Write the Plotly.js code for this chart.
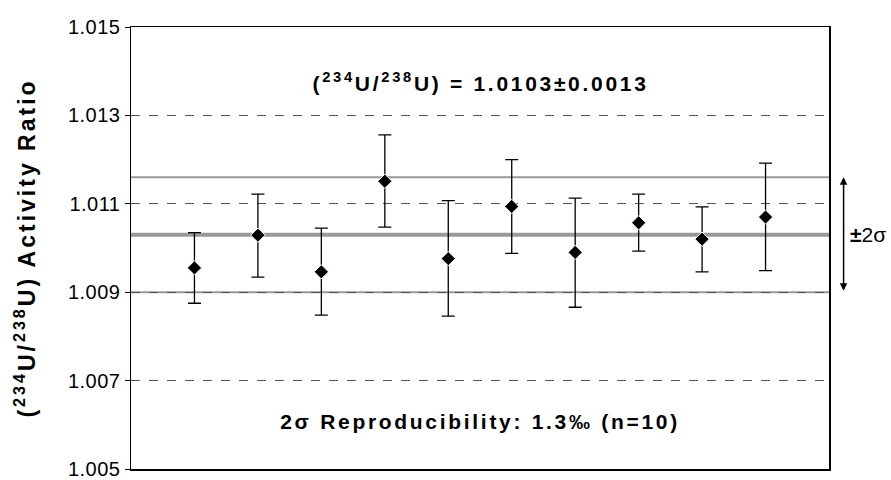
<!DOCTYPE html>
<html>
<head>
<meta charset="utf-8">
<script src="https://cdn.plot.ly/plotly-3.0.1.min.js"></script>
<style>
html,body{margin:0;padding:0;background:#fff;}
#chart{width:891px;height:480px;}
#chart .ytitle{letter-spacing:3px;}
#chart .annotation[data-index="0"] text,
#chart .annotation[data-index="1"] text{letter-spacing:2.7px;}
#chart .ytick text{letter-spacing:0.5px;}
</style>
</head>
<body>
<div id="chart"></div>
<script>
// Sample index (measurement number)
const sampleIdx = [1, 2, 3, 4, 5, 6, 7, 8, 9, 10];
// Measured (234U/238U) activity ratios
const ratio   = [1.00955, 1.01029, 1.00946, 1.01151, 1.00976, 1.01094, 1.00990, 1.01057, 1.01020, 1.01070];
// Upper and lower ends of each error bar
const ratioHi = [1.01035, 1.01122, 1.01045, 1.01256, 1.01107, 1.01200, 1.01113, 1.01122, 1.01093, 1.01192];
const ratioLo = [1.00875, 1.00934, 1.00848, 1.01047, 1.00846, 1.00988, 1.00866, 1.00993, 1.00946, 1.00949];
// Mean and ±2σ band
const meanRatio = 1.0103;
const upper2s = 1.0116;
const lower2s = 1.0090;
// Y tick values / labels
const yTicks = [1.005, 1.007, 1.009, 1.011, 1.013, 1.015];
const yTickLabels = ['1.005', '1.007', '1.009', '1.011', '1.013', '1.015'];

const FONT = 'Liberation Sans, Arial, Helvetica, sans-serif';

const errPlus = ratioHi.map((v, i) => v - ratio[i]);
const errMinus = ratio.map((v, i) => v - ratioLo[i]);

const trace = {
  x: sampleIdx,
  y: ratio,
  type: 'scatter',
  mode: 'markers',
  marker: { symbol: 'diamond', size: 11, color: '#000', line: { color: '#fff', width: 1 } },
  error_y: {
    type: 'data', symmetric: false,
    array: errPlus, arrayminus: errMinus,
    color: '#000', thickness: 1.3, width: 6.5
  },
  hoverinfo: 'x+y',
  showlegend: false
};

const hline = (yv, w, c) => ({
  type: 'line', xref: 'paper', yref: 'y', x0: 0, x1: 1, y0: yv, y1: yv,
  line: { color: c, width: w }, layer: 'below'
});

const layout = {
  width: 891, height: 480,
  margin: { l: 131, r: 62, t: 27, b: 11 },
  paper_bgcolor: '#fff', plot_bgcolor: '#fff',
  font: { family: FONT, color: '#000' },
  xaxis: {
    range: [0, 11], showticklabels: false, ticks: '', showgrid: false, zeroline: false,
    showline: true, mirror: true, linecolor: '#000', linewidth: 1.5, fixedrange: true
  },
  yaxis: {
    range: [1.0049999, 1.015], tickvals: yTicks, ticktext: yTickLabels,
    ticks: 'outside', ticklen: 5, tickwidth: 1, tickcolor: '#000',
    ticklabeloverflow: 'allow', automargin: false,
    tickfont: { size: 20, family: FONT, color: '#000' },
    showgrid: true, gridcolor: '#555', gridwidth: 1, griddash: 'dash',
    zeroline: false, showline: true, mirror: true, linecolor: '#000', linewidth: 1.5,
    title: {
      text: '<b>(<sup>234</sup>U/<sup>238</sup>U) Activity Ratio</b>',
      font: { size: 23, family: FONT, color: '#000' }, standoff: 28
    },
    fixedrange: true
  },
  shapes: [
    hline(upper2s, 2, '#999'),
    hline(meanRatio, 4, '#999'),
    hline(lower2s, 2, '#999')
  ],
  annotations: [
    {
      xref: 'paper', yref: 'paper', x: 0.5, y: 0.876, xanchor: 'center', yanchor: 'middle', showarrow: false,
      text: '<b>(<sup>234</sup>U/<sup>238</sup>U) = 1.0103±0.0013</b>',
      font: { size: 21, family: FONT, color: '#000' }
    },
    {
      xref: 'paper', yref: 'paper', x: 0.5, y: 0.107, xanchor: 'center', yanchor: 'middle', showarrow: false,
      text: '<b>2σ Reproducibility: 1.3‰ (n=10)</b>',
      font: { size: 21, family: FONT, color: '#000' }
    },
    {
      xref: 'paper', yref: 'y', x: 1.0209, y: upper2s,
      axref: 'pixel', ayref: 'y', ax: 0, ay: lower2s,
      text: '', showarrow: true, arrowside: 'end+start', arrowhead: 2,
      arrowsize: 1, arrowwidth: 1.5, arrowcolor: '#000', standoff: 0, startstandoff: 0
    },
    {
      xref: 'paper', yref: 'y', x: 1.0563, y: meanRatio, xanchor: 'center', yanchor: 'middle', showarrow: false,
      text: '<b>±</b>2σ', font: { size: 21, family: FONT, color: '#000' }
    }
  ]
};

Plotly.newPlot('chart', [trace], layout, { displayModeBar: false, staticPlot: true });
</script>
</body>
</html>
